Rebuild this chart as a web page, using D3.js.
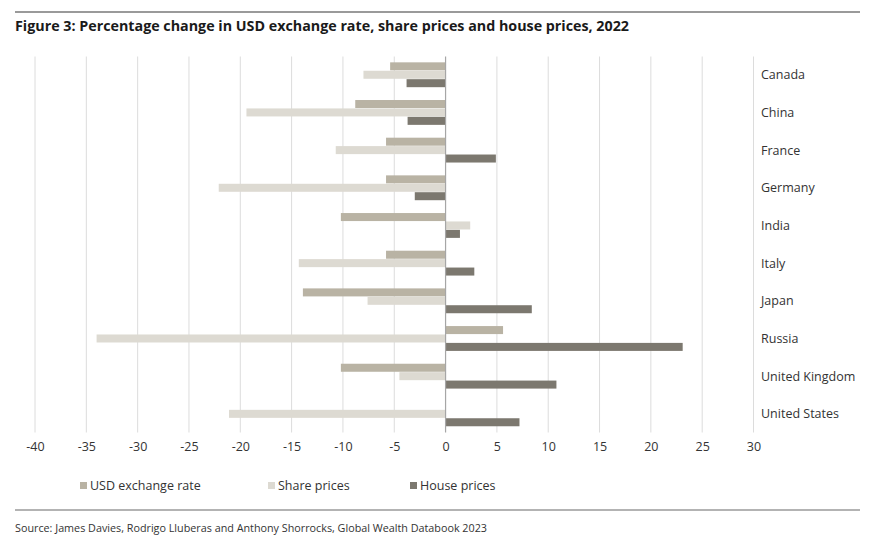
<!DOCTYPE html>
<html><head><meta charset="utf-8">
<script src="https://cdn.jsdelivr.net/npm/d3@7"></script>
<style>body{margin:0;background:#fff;} text{font-family:"Open Sans",sans-serif;}</style>
</head><body>
<svg id="chart" width="876" height="545"></svg>
<script>
const categories = ["Canada","China","France","Germany","India","Italy","Japan","Russia","United Kingdom","United States"];
const seriesNames = ["USD exchange rate","Share prices","House prices"];
const usdExchangeRate = [-5.4,-8.8,-5.8,-5.8,-10.2,-5.8,-13.9,5.6,-10.2,0];
const sharePrices = [-8.0,-19.4,-10.7,-22.1,2.4,-14.3,-7.6,-34.0,-4.5,-21.1];
const housePrices = [-3.8,-3.7,4.9,-3.0,1.4,2.8,8.4,23.1,10.8,7.2];
const xTicks = [-40,-35,-30,-25,-20,-15,-10,-5,0,5,10,15,20,25,30];
const colors = ["#b9b3a4","#dddad2","#7c786f"];
const title = "Figure 3: Percentage change in USD exchange rate, share prices and house prices, 2022";
const source = "Source: James Davies, Rodrigo Lluberas and Anthony Shorrocks, Global Wealth Databook 2023";

const seriesData = [usdExchangeRate, sharePrices, housePrices];
const svg = d3.select("#chart");

// rules
svg.append("line").attr("x1",15).attr("x2",860).attr("y1",12).attr("y2",12).attr("stroke","#9a9a9a").attr("stroke-width",2);
svg.append("line").attr("x1",15).attr("x2",860).attr("y1",510).attr("y2",510).attr("stroke","#9a9a9a").attr("stroke-width",1.5);

svg.append("text").attr("x",15).attr("y",31).attr("font-size",14).attr("font-weight","bold").attr("fill","#1a1a1a")
  .attr("textLength",614).attr("lengthAdjust","spacingAndGlyphs").text(title);
svg.append("text").attr("x",15).attr("y",532).attr("font-size",10.5).attr("fill","#333")
  .attr("textLength",472).attr("lengthAdjust","spacingAndGlyphs").text(source);

const x = d3.scaleLinear().domain([-40,30]).range([35,753.5]);
const y = d3.scaleBand().domain(categories).range([56.5,432.5]).paddingInner(0.33).paddingOuter(0.155);
const ySub = d3.scaleBand().domain(d3.range(3)).range([0,y.bandwidth()]);

// gridlines
svg.append("g").selectAll("line").data(xTicks.filter(t=>t!==0)).join("line")
  .attr("x1",d=>x(d)).attr("x2",d=>x(d)).attr("y1",56.5).attr("y2",432.5)
  .attr("stroke","#dcdcdc").attr("stroke-width",1);

// bars
const groups = svg.append("g").selectAll("g").data(categories).join("g")
  .attr("transform",d=>`translate(0,${y(d)})`);
groups.selectAll("rect").data((d,i)=>seriesData.map((s,k)=>({k,v:s[i]}))).join("rect")
  .attr("x",d=>x(Math.min(0,d.v))).attr("width",d=>Math.abs(x(d.v)-x(0)))
  .attr("y",d=>ySub(d.k)).attr("height",ySub.bandwidth()-0.4)
  .attr("fill",d=>colors[d.k]);

// zero line
svg.append("line").attr("x1",x(0)).attr("x2",x(0)).attr("y1",56.5).attr("y2",432.5).attr("stroke","#a6a6a6").attr("stroke-width",1.2);

// x axis labels
const ax = d3.axisBottom(x).tickValues(xTicks).tickSize(0).tickPadding(0).tickFormat(d=>String(d));
const axG = svg.append("g").attr("transform","translate(0,442)").call(ax);
axG.select(".domain").remove();
axG.selectAll("text").attr("font-size",12.5).attr("fill","#333").attr("font-family","'Open Sans',sans-serif");

// category labels
svg.append("g").selectAll("text").data(categories).join("text")
  .attr("x",761).attr("y",d=>y(d)+y.bandwidth()/2).attr("dy","0.35em")
  .attr("font-size",12.5).attr("fill","#333").text(d=>d);

// legend
const legendX = [80,268,410];
const lg = svg.append("g").selectAll("g").data(seriesNames).join("g")
  .attr("transform",(d,i)=>`translate(${legendX[i]},486)`);
lg.append("rect").attr("x",0).attr("y",-4).attr("width",7).attr("height",7).attr("fill",(d,i)=>colors[i]);
lg.append("text").attr("x",10).attr("y",0).attr("dy","0.35em").attr("font-size",12.5).attr("fill","#333").text(d=>d);
</script>
</body></html>
